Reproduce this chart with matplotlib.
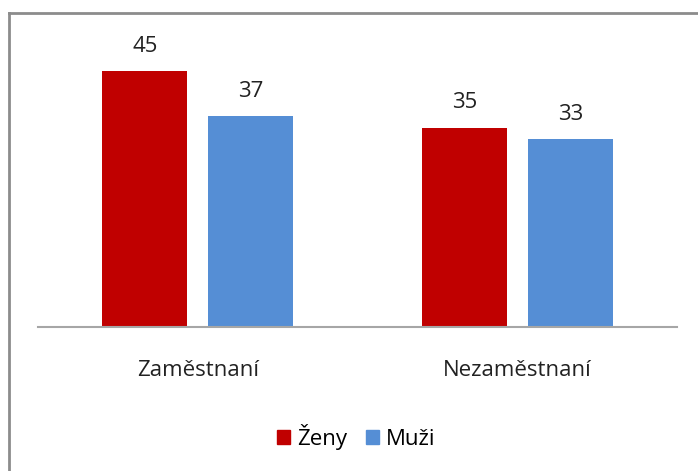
import matplotlib.pyplot as plt
from matplotlib.lines import Line2D
from matplotlib.patches import Patch

categories = ['Zaměstnaní', 'Nezaměstnaní']
zeny = [45, 35]
muzi = [37, 33]
series_names = ['Ženy', 'Muži']

plt.rcParams['font.family'] = ['Open Sans', 'DejaVu Sans']

W, H = 698, 471
fs = 16
fig = plt.figure(figsize=(W / 100, H / 100), dpi=100)
# axes: baseline at y=327 px, x from 38 to 677 px
ax = fig.add_axes([38 / W, (H - 327) / H, 639 / W, 284.5 / H])

red = '#C00000'
blue = '#558ED5'
bw = 0.266
off = 0.166
x = list(range(len(categories)))

b1 = ax.bar([i - off for i in x], zeny, width=bw, color=red)
b2 = ax.bar([i + off for i in x], muzi, width=bw, color=blue)

for bars, vals in ((b1, zeny), (b2, muzi)):
    for rect, v in zip(bars, vals):
        ax.annotate(str(v), (rect.get_x() + rect.get_width() / 2, v),
                    xytext=(0, 14), textcoords='offset points',
                    ha='center', va='baseline', fontsize=fs, color='#222222')

for i, c in zip(x, categories):
    ax.annotate(c, (i, 0), xytext=(0, -35.3), textcoords='offset points',
                ha='center', va='baseline', fontsize=fs, color='#222222')

ax.set_xlim(-0.5, 1.5)
ax.set_ylim(0, 50)
ax.set_xticks([])
ax.set_yticks([])
for s in ['top', 'right', 'left']:
    ax.spines[s].set_visible(False)
ax.spines['bottom'].set_color('#A6A6A6')
ax.spines['bottom'].set_linewidth(1.5)

handles = [Patch(color=red), Patch(color=blue)]
fig.legend(handles, series_names, loc='center', bbox_to_anchor=(356 / W, 1 - 437 / H),
           ncol=2, frameon=False, fontsize=fs, handlelength=0.6, handleheight=0.6,
           handletextpad=0.3, columnspacing=0.85, borderpad=0)

# outer frame (only left and top edges are visible in the picture)
fig.add_artist(Line2D([9 / W, 9 / W], [0, 1 - 13 / H], color='#8C8C8C', lw=2))
fig.add_artist(Line2D([9 / W, 1], [1 - 13 / H, 1 - 13 / H], color='#8C8C8C', lw=2))

fig.savefig('out.png', dpi=100)
